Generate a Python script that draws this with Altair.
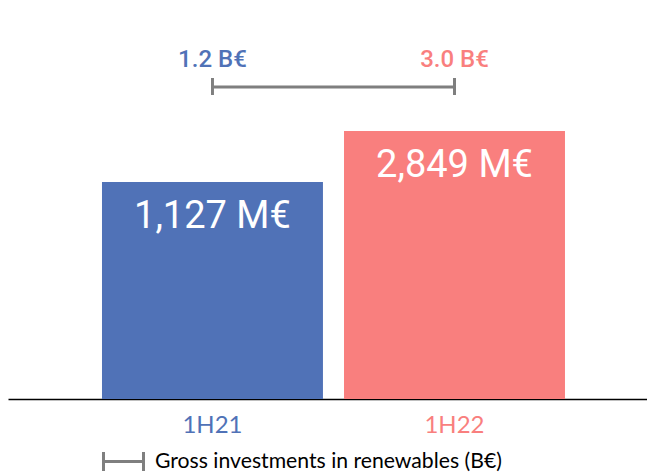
import altair as alt
import pandas as pd

periods = ["1H21", "1H22"]
investments_meur = [1127, 2849]
investments_beur = [1.2, 3.0]
bar_labels = ["1,127 M€", "2,849 M€"]
top_labels = ["1.2 B€", "3.0 B€"]
colors = ["#5072B7", "#F97F7E"]
series_name = "Gross investments in renewables (B€)"

df = pd.DataFrame({
    "period": periods,
    "meur": investments_meur,
    "beur": investments_beur,
    "bar_label": bar_labels,
    "top_label": top_labels,
})
bracket = pd.DataFrame({"start": [periods[0]], "end": [periods[1]], "series": [series_name]})
ends = pd.DataFrame({"period": periods, "series": [series_name] * 2})

y_domain = [-6200, 7000]
x_scale = alt.Scale(domain=periods, paddingInner=0.087, paddingOuter=0.3636, align=0.534)
y_scale = alt.Scale(domain=y_domain, zero=False, nice=False)
color_scale = alt.Scale(domain=periods, range=colors)
stroke_scale = alt.Scale(domain=[series_name], range=["#7F7F7F"])

x_axis = alt.Axis(
    title=None, ticks=False, labelAngle=0, labelPadding=14,
    labelFont="Lato", labelFontSize=24,
    labelColor={"condition": {"test": f"datum.value === '{periods[0]}'", "value": colors[0]}, "value": colors[1]},
    domainColor="#000000", domainWidth=1.5,
)

bars = alt.Chart(df).mark_bar().encode(
    x=alt.X("period:N", scale=x_scale, axis=x_axis),
    y=alt.Y("meur:Q", scale=y_scale, axis=None),
    y2=alt.datum(y_domain[0]),
    color=alt.Color("period:N", scale=color_scale, legend=None),
)

bar_text = alt.Chart(df).mark_text(
    font="Roboto", fontSize=38, color="white", baseline="middle", dy=35
).encode(
    x=alt.X("period:N", scale=x_scale),
    y=alt.Y("meur:Q", scale=y_scale),
    text="bar_label:N",
)

top_text = alt.Chart(df).mark_text(
    font="Roboto", fontSize=24, fontWeight=500, baseline="middle"
).encode(
    x=alt.X("period:N", scale=x_scale),
    y=alt.value(52),
    text="top_label:N",
    color=alt.Color("period:N", scale=color_scale, legend=None),
)

legend = alt.Legend(
    title=None, orient="none", legendX=104, legendY=442,
    symbolType="M-2,0H2M-2,-0.95V0.95M2,-0.95V0.95",
    symbolSize=400, symbolStrokeWidth=3,
    labelFont="Lato", labelFontSize=21.2, labelColor="#000000", labelOffset=20,
    labelLimit=0,
)

bracket_line = alt.Chart(bracket).mark_rule(strokeWidth=3).encode(
    x=alt.X("start:N", scale=x_scale),
    x2="end:N",
    y=alt.value(79),
    stroke=alt.Stroke("series:N", scale=stroke_scale, legend=legend),
)

bracket_ends = alt.Chart(ends).mark_rule(strokeWidth=3).encode(
    x=alt.X("period:N", scale=x_scale),
    y=alt.value(70),
    y2=alt.value(87),
    stroke=alt.Stroke("series:N", scale=stroke_scale, legend=legend),
)

chart = alt.layer(bars, bar_text, top_text, bracket_line, bracket_ends).properties(
    width=639, height=391, padding=0
).configure_view(stroke=None)

chart.save("out.html", embed_options={"renderer": "svg", "actions": False})
